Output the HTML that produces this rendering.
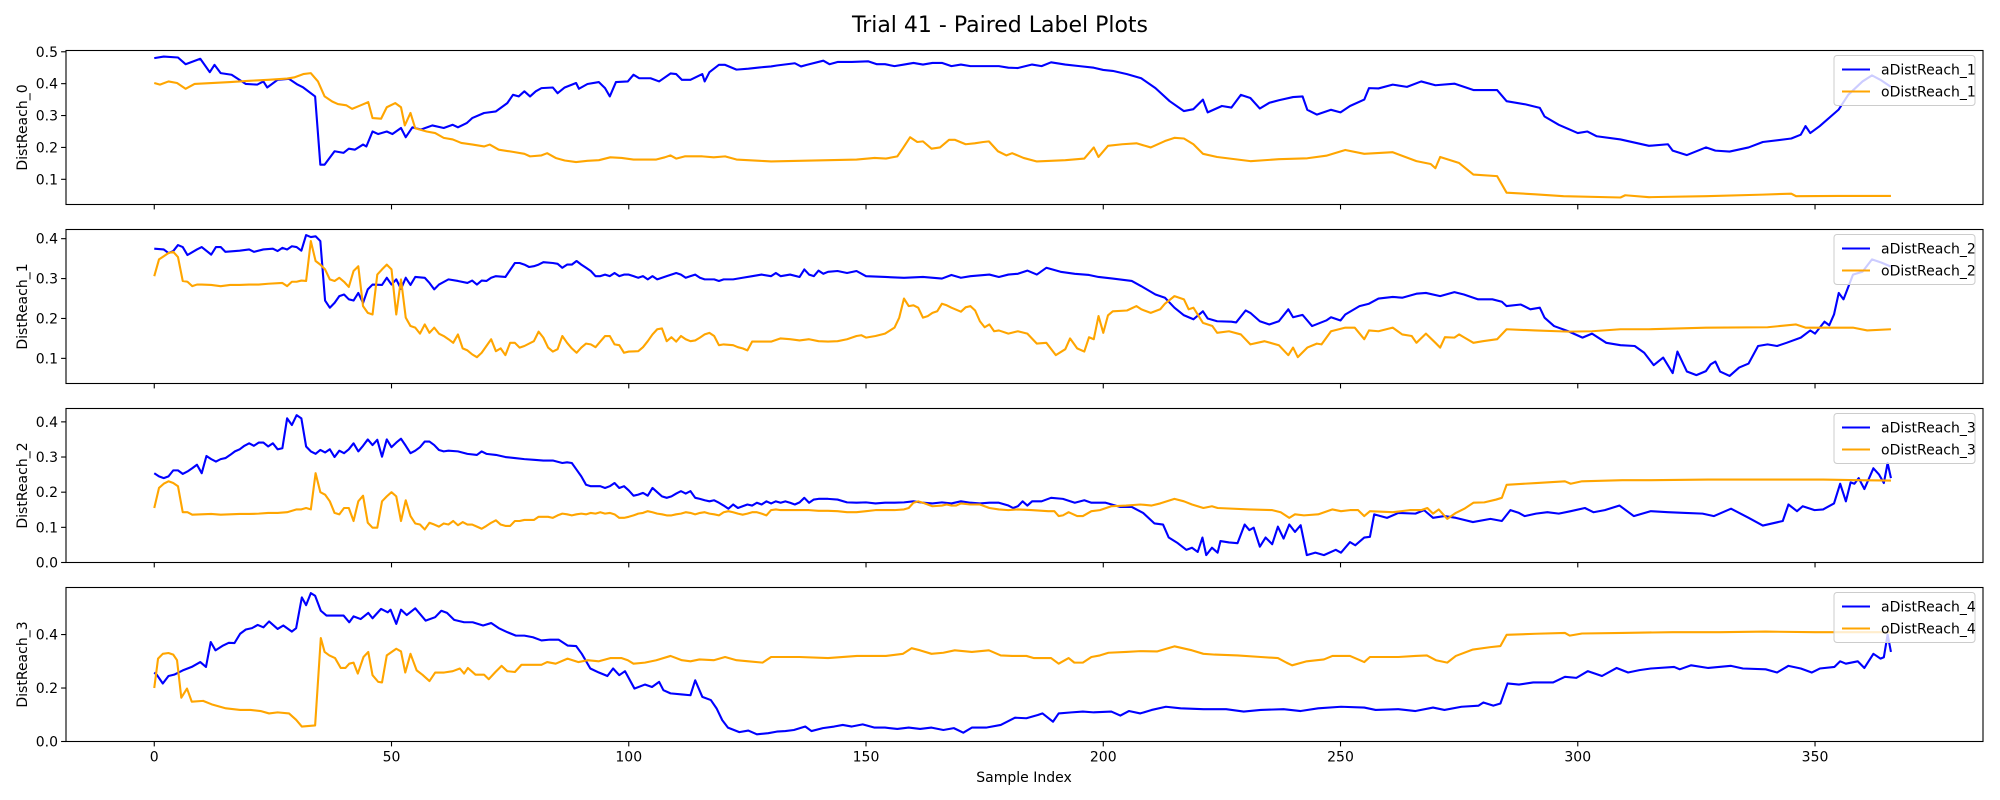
<!DOCTYPE html>
<html><head><meta charset="utf-8"><style>
html,body{margin:0;padding:0;background:#fff;}
svg{display:block;font-family:"DejaVu Sans","Liberation Sans",sans-serif;}
</style></head><body>
<svg id="fig" width="2000" height="800" viewBox="0 0 2000 800" xmlns="http://www.w3.org/2000/svg">
<rect width="2000" height="800" fill="#fff"/>
<text x="1000" y="32" text-anchor="middle" font-size="22">Trial 41 - Paired Label Plots</text>
<text x="1024" y="782" text-anchor="middle" font-size="14">Sample Index</text>
</svg>
<script>
const xTicks = [0,50,100,150,200,250,300,350];
const panelLabels = ["DistReach_0","DistReach_1","DistReach_2","DistReach_3"];
const seriesNamesA = ["aDistReach_1","aDistReach_2","aDistReach_3","aDistReach_4"];
const seriesNamesO = ["oDistReach_1","oDistReach_2","oDistReach_3","oDistReach_4"];
const yTicks1 = [0.1,0.2,0.3,0.4,0.5];
const yTicks2 = [0.1,0.2,0.3,0.4];
const yTicks3 = [0.0,0.1,0.2,0.3,0.4];
const yTicks4 = [0.0,0.2,0.4];
const yLim1 = [0.021,0.504], yLim2 = [0.037,0.423], yLim3 = [0,0.438], yLim4 = [0,0.576];

const aDistReach1 = [[0,.48],[2,.485],[5,.482],[6.6,.461],[9.7,.478],[11.7,.436],[12.7,.459],[14,.433],[16.3,.428],[19.3,.399],[21.7,.397],[23,.407],[23.8,.388],[26,.412],[28.4,.415],[30.2,.397],[31.4,.388],[33.9,.36],[35,.146],[35.9,.146],[38,.188],[39.9,.183],[41,.196],[42.3,.193],[44,.209],[44.7,.203],[46,.25],[47.2,.242],[49,.25],[50.2,.242],[52,.261],[53,.232],[54.4,.263],[56.2,.256],[58.6,.269],[61,.261],[62.9,.271],[64,.263],[65.9,.277],[67,.292],[69.5,.308],[72,.313],[74.4,.339],[75.6,.365],[76.8,.36],[78,.376],[79.2,.36],[80.4,.376],[81.6,.386],[84,.388],[85,.37],[86.5,.388],[88.9,.402],[89.5,.384],[91.3,.399],[93.7,.405],[95,.386],[96,.36],[97.3,.405],[99.8,.407],[101,.428],[102.2,.417],[104.6,.417],[106.4,.407],[108.8,.432],[110,.43],[111.2,.412],[113,.412],[115.5,.43],[116,.407],[117,.436],[119,.459],[120.3,.459],[122.7,.444],[125.2,.447],[127.6,.451],[130,.454],[131.2,.457],[135,.464],[136.3,.454],[137.5,.459],[141,.472],[142.3,.461],[144,.468],[147,.468],[150.5,.47],[152.3,.461],[154,.461],[156,.455],[158,.46],[160,.465],[162,.46],[164,.465],[166,.465],[168,.455],[170,.46],[172,.455],[174,.455],[176,.455],[178,.455],[180,.45],[182,.449],[185,.46],[187,.455],[189,.467],[192,.46],[195,.455],[198,.45],[200,.443],[202,.44],[205,.43],[208,.417],[211,.386],[214,.345],[217,.314],[219,.32],[221,.35],[222,.31],[225,.33],[227,.325],[229,.365],[231,.355],[233,.322],[235,.34],[237,.348],[240,.358],[242,.36],[243,.318],[245,.303],[248,.318],[250,.31],[252,.33],[255,.35],[256,.386],[258,.385],[261,.397],[264,.39],[267,.407],[270,.395],[274,.40],[278,.38],[283,.38],[285,.345],[289,.335],[292,.324],[293,.297],[296,.271],[300,.245],[302,.25],[304,.235],[309,.225],[315,.205],[319,.21],[320,.19],[323,.176],[327,.2],[329,.19],[332,.187],[336,.2],[339,.217],[345,.228],[347,.24],[348,.267],[349,.245],[351,.267],[355,.319],[357,.365],[360,.407],[362,.426],[364,.41],[366,.39]];
const oDistReach1 = [[0,.402],[1.2,.397],[3,.407],[4.8,.402],[6.6,.384],[8.5,.399],[12,.402],[16,.405],[20,.409],[24,.412],[28,.416],[29.6,.42],[31.4,.43],[33,.433],[34.5,.407],[35.9,.36],[37.5,.344],[38.7,.336],[40.5,.332],[41.7,.321],[43.5,.332],[45.1,.342],[46,.292],[47.8,.29],[49,.326],[50.8,.339],[52,.326],[52.8,.269],[54,.308],[55,.26],[57.4,.25],[59.2,.245],[61,.23],[62.9,.225],[64.7,.214],[67.1,.209],[69.5,.203],[70.7,.209],[72.6,.193],[75.6,.186],[78,.18],[79.2,.172],[81.6,.175],[82.8,.182],[84.6,.167],[86.5,.159],[88.9,.154],[91.3,.158],[93.7,.16],[96.1,.169],[98.5,.167],[101,.162],[105.8,.162],[107.6,.169],[108.8,.175],[110,.165],[111.8,.172],[115.5,.172],[117.9,.169],[120.3,.172],[122.7,.162],[127.6,.158],[130,.156],[136,.158],[142,.16],[148,.162],[151.8,.167],[154.2,.165],[156.6,.172],[157.8,.198],[159.3,.232],[160.8,.217],[162,.219],[163.8,.196],[165.6,.2],[167.5,.224],[168.7,.224],[171,.21],[172.9,.213],[174.7,.217],[175.9,.219],[177.8,.188],[179.6,.175],[180.8,.182],[183.2,.167],[186,.156],[192,.16],[196,.165],[198,.2],[199,.17],[201,.205],[204,.21],[207,.213],[210,.2],[213,.22],[215,.23],[217,.228],[219,.21],[221,.18],[224,.17],[231,.157],[237,.163],[243,.166],[247,.174],[251,.192],[255,.18],[261,.185],[266,.157],[269,.148],[270,.135],[271,.17],[275,.151],[278,.115],[283,.11],[285,.058],[291,.053],[297,.047],[309,.043],[310,.05],[315,.044],[327,.047],[339,.052],[345,.055],[346,.047],[355,.048],[366,.048]];

const aDistReach2 = [[0,.375],[2,.373],[3,.364],[4,.369],[5,.384],[6,.379],[7,.359],[9,.373],[10,.379],[12,.36],[13,.379],[14,.379],[15,.367],[18,.37],[20,.373],[21,.367],[23,.373],[25,.375],[26,.369],[27,.377],[28,.373],[29,.381],[30,.379],[31,.37],[32,.409],[33,.404],[34,.406],[35,.394],[36,.245],[37,.227],[38,.239],[39,.256],[40,.26],[41,.248],[42,.245],[43,.264],[44,.239],[45,.273],[46,.285],[48,.284],[49,.302],[50,.285],[51,.298],[52,.274],[53,.302],[54,.284],[55,.304],[57,.302],[58,.289],[59,.273],[60,.285],[62,.298],[64,.294],[66,.289],[67,.295],[68,.285],[69,.295],[70,.294],[71,.302],[72,.306],[74,.304],[76,.339],[77,.339],[78,.335],[79,.329],[80,.331],[81,.335],[82,.341],[84,.339],[85,.337],[86,.327],[87,.335],[88,.335],[89,.344],[90,.335],[91,.327],[92,.319],[93,.306],[94,.306],[95,.31],[96,.306],[97,.314],[98,.306],[99,.31],[100,.31],[101,.306],[102,.302],[103,.306],[104,.298],[105,.306],[106,.298],[107,.302],[108,.306],[110,.314],[111,.31],[112,.302],[113,.306],[114,.31],[115,.302],[116,.298],[118,.298],[119,.294],[120,.298],[122,.298],[124,.302],[126,.306],[128,.31],[130,.306],[131,.314],[132,.306],[134,.31],[136,.304],[137,.323],[138,.31],[139,.306],[140,.32],[141,.312],[142,.317],[144,.319],[146,.314],[148,.319],[150,.306],[154,.304],[158,.302],[162,.304],[166,.30],[168,.309],[170,.302],[172,.306],[176,.31],[178,.304],[180,.31],[182,.312],[184,.32],[186,.31],[188,.327],[191,.317],[194,.312],[197,.309],[199,.304],[202,.30],[206,.294],[208,.281],[211,.26],[213,.252],[215,.227],[217,.208],[219,.198],[221,.218],[222,.2],[224,.193],[227,.192],[228,.19],[230,.22],[231,.214],[233,.193],[235,.185],[237,.193],[239,.223],[240,.203],[242,.209],[244,.181],[247,.195],[248,.203],[250,.195],[251,.21],[254,.231],[256,.237],[258,.25],[261,.254],[263,.252],[266,.262],[268,.264],[271,.256],[274,.266],[276,.26],[279,.248],[282,.248],[284,.242],[285,.231],[288,.235],[290,.223],[292,.227],[293,.202],[295,.181],[298,.168],[301,.152],[303,.162],[306,.139],[309,.133],[312,.131],[314,.114],[316,.083],[318,.102],[320,.063],[321,.117],[323,.067],[325,.058],[327,.068],[328,.085],[329,.092],[330,.067],[332,.056],[334,.077],[336,.087],[338,.131],[340,.135],[342,.131],[344,.139],[347,.152],[349,.17],[350,.162],[352,.192],[353,.183],[354,.21],[355,.264],[356,.248],[358,.31],[360,.317],[362,.348],[364,.34],[366,.33]];
const oDistReach2 = [[0,.306],[1,.348],[2,.356],[3,.364],[4,.367],[5,.354],[6,.294],[7,.292],[8,.281],[9,.285],[10,.285],[12,.284],[14,.281],[16,.284],[18,.284],[20,.285],[22,.285],[24,.287],[27,.289],[28,.281],[29,.292],[30,.292],[31,.295],[32,.294],[33,.394],[34,.344],[35,.335],[36,.323],[37,.298],[38,.294],[39,.302],[40,.292],[41,.279],[42,.319],[43,.331],[44,.231],[45,.214],[46,.21],[47,.31],[48,.323],[49,.335],[50,.323],[51,.21],[52,.298],[53,.202],[54,.181],[55,.177],[56,.162],[57,.185],[58,.164],[59,.177],[60,.162],[61,.156],[62,.148],[63,.139],[64,.16],[65,.125],[66,.12],[67,.11],[68,.103],[69,.114],[70,.131],[71,.148],[72,.118],[73,.125],[74,.108],[75,.139],[76,.139],[77,.127],[78,.131],[80,.143],[81,.167],[82,.152],[83,.127],[84,.117],[85,.123],[86,.156],[87,.139],[88,.125],[89,.114],[90,.127],[91,.137],[92,.135],[93,.128],[94,.142],[95,.156],[96,.156],[97,.135],[98,.133],[99,.114],[100,.117],[102,.118],[103,.128],[104,.143],[105,.16],[106,.173],[107,.175],[108,.143],[109,.153],[110,.142],[111,.156],[112,.148],[113,.143],[114,.145],[115,.152],[116,.16],[117,.164],[118,.156],[119,.133],[120,.135],[122,.133],[123,.128],[124,.125],[125,.12],[126,.142],[130,.142],[132,.15],[134,.148],[136,.145],[138,.148],[140,.143],[142,.142],[144,.143],[146,.148],[148,.156],[149,.158],[150,.152],[152,.156],[154,.162],[156,.177],[157,.202],[158,.25],[159,.231],[160,.233],[161,.227],[162,.202],[163,.206],[164,.214],[165,.218],[166,.237],[167,.233],[168,.227],[170,.217],[171,.228],[172,.231],[173,.22],[174,.193],[175,.178],[176,.185],[177,.168],[178,.17],[180,.162],[182,.168],[184,.162],[186,.137],[188,.139],[190,.108],[192,.123],[193,.15],[194.5,.125],[196,.117],[197,.153],[198,.148],[199,.206],[200,.164],[201,.208],[202,.218],[205,.22],[207,.231],[208,.223],[210,.214],[212,.223],[213,.237],[215,.256],[217,.248],[218,.223],[219,.227],[221,.189],[223,.181],[224,.164],[226.5,.168],[229,.16],[231,.135],[234,.143],[237,.133],[239,.108],[240,.127],[241,.103],[243,.127],[245,.137],[246,.135],[248,.168],[251,.177],[253,.177],[255,.148],[256,.17],[258,.168],[261,.177],[263,.16],[265,.156],[266,.139],[268,.162],[270,.139],[271,.127],[272,.153],[274,.152],[275,.16],[276,.153],[278,.139],[280,.143],[283,.148],[285,.173],[291,.17],[298,.167],[303,.168],[309,.173],[315,.173],[327,.177],[340,.178],[346,.185],[348,.177],[358,.177],[361,.17],[366,.173]];

const aDistReach3 = [[0,.254],[1,.245],[2,.24],[3,.245],[4,.262],[5,.262],[6,.252],[7,.259],[8,.268],[9,.278],[10,.254],[11,.303],[12,.294],[13,.287],[14,.294],[15,.297],[16,.306],[17,.316],[18,.322],[19,.332],[20,.339],[21,.332],[22,.341],[23,.341],[24,.33],[25,.339],[26,.322],[27,.325],[28,.41],[29,.391],[30,.419],[31,.41],[32,.33],[33,.316],[34,.309],[35,.32],[36,.313],[37,.322],[38,.30],[39,.318],[40,.311],[41,.322],[42,.339],[43,.316],[44,.332],[45,.35],[46,.334],[47,.349],[48,.301],[49,.35],[50,.328],[51,.341],[52,.352],[53,.332],[54,.311],[55,.318],[56,.328],[57,.344],[58,.344],[59,.334],[60,.32],[61,.316],[62,.318],[64,.316],[66,.309],[68,.306],[69,.316],[70,.309],[72,.306],[74,.30],[76,.297],[78,.294],[80,.292],[82,.29],[84,.29],[86,.283],[87,.285],[88,.283],[89,.264],[90,.245],[91,.221],[92,.217],[94,.217],[95,.212],[96,.217],[97,.226],[98,.212],[99,.217],[100,.205],[101,.19],[102,.193],[103,.198],[104,.19],[105,.212],[106,.20],[107,.188],[108,.184],[109,.188],[110,.196],[111,.203],[112,.196],[113,.203],[114,.184],[115,.181],[116,.177],[117,.174],[118,.177],[119,.17],[120,.162],[121,.153],[122,.165],[123,.155],[124,.16],[125,.165],[126,.162],[127,.17],[128,.165],[129,.174],[130,.168],[131,.174],[132,.17],[133,.174],[134,.17],[135,.165],[136,.171],[137,.184],[138,.17],[139,.179],[140,.181],[142,.181],[144,.179],[146,.171],[148,.17],[150,.171],[152,.168],[154,.17],[156,.17],[158,.171],[160,.174],[162,.17],[164,.168],[166,.171],[168,.168],[170,.174],[172,.17],[174,.168],[176,.17],[178,.17],[180,.162],[181,.155],[182,.16],[183,.174],[184,.162],[185,.174],[187,.174],[189,.184],[191.5,.181],[194,.17],[196,.177],[197.5,.17],[200.5,.17],[203.6,.158],[206,.158],[208.4,.141],[210.8,.111],[212.6,.108],[213.8,.071],[215.7,.055],[217.5,.036],[218.7,.042],[219.9,.03],[220.9,.071],[221.7,.021],[222.9,.042],[224.1,.028],[224.7,.061],[226.5,.057],[228.3,.055],[229.8,.108],[230.8,.092],[231.7,.099],[233,.045],[234.2,.071],[235.6,.052],[236.8,.102],[238,.068],[239.2,.108],[240.4,.087],[241.6,.106],[242.9,.021],[244.7,.028],[246.5,.021],[249,.036],[250.1,.028],[252,.058],[253.1,.049],[255,.071],[256.2,.073],[257.1,.137],[259.8,.127],[262.2,.141],[265.8,.139],[267.6,.149],[269.5,.127],[271.9,.132],[274.3,.127],[277.9,.115],[281.6,.124],[284,.118],[285.8,.149],[287.6,.141],[288.8,.132],[291.2,.139],[293.6,.143],[296,.139],[298.5,.146],[301.5,.155],[303.3,.143],[305.7,.149],[308.8,.162],[311.8,.132],[315.4,.146],[319,.143],[322.7,.141],[326.3,.139],[328.7,.132],[332.3,.153],[336,.127],[339,.105],[343.2,.118],[344.4,.165],[346.2,.146],[347.4,.16],[349.9,.149],[351.7,.151],[354,.168],[355.3,.224],[356.5,.174],[357.5,.228],[358.3,.224],[359.2,.24],[360.4,.209],[362.3,.268],[363.5,.25],[364.5,.226],[365.3,.283],[366,.24]];
const oDistReach3 = [[0,.155],[1,.212],[2,.224],[3,.231],[4,.226],[5,.217],[6,.143],[7,.143],[8,.136],[10,.137],[12,.138],[14,.136],[16,.137],[18,.138],[20,.138],[22,.139],[24,.141],[26,.141],[28,.143],[30,.151],[31,.151],[32,.155],[33,.151],[34,.254],[35,.20],[36,.193],[37,.174],[38,.141],[39,.137],[40,.155],[41,.155],[42,.118],[43,.174],[44,.19],[45,.113],[46,.099],[47,.099],[48,.174],[49,.188],[50,.20],[51,.188],[52,.118],[53,.177],[54,.132],[55,.111],[56,.108],[57,.094],[58,.113],[59,.108],[60,.102],[61,.111],[62,.108],[63,.118],[64,.106],[65,.115],[66,.108],[67,.108],[68,.102],[69,.096],[70,.104],[71,.113],[72,.12],[73,.108],[74,.104],[75,.104],[76,.118],[77,.118],[78,.121],[80,.121],[81,.13],[82,.13],[83,.13],[84,.127],[85,.134],[86,.139],[87,.137],[88,.134],[89,.137],[90,.139],[91,.137],[92,.141],[93,.139],[94,.143],[95,.139],[96,.141],[97,.137],[98,.127],[99,.127],[100,.13],[101,.134],[102,.139],[103,.141],[104,.146],[105,.143],[106,.139],[107,.137],[108,.134],[109,.134],[110,.137],[111,.139],[112,.143],[113,.141],[114,.137],[115,.141],[116,.143],[117,.139],[118,.137],[119,.134],[120,.143],[121,.146],[122,.143],[123,.139],[124,.136],[125,.139],[126,.143],[127,.143],[128,.139],[129,.134],[130,.149],[131,.151],[132,.149],[134,.149],[136,.149],[138,.149],[140,.147],[142,.147],[144,.146],[146,.143],[148,.143],[150,.146],[152,.149],[154,.149],[156,.149],[158,.151],[159,.155],[160,.17],[161,.174],[162,.17],[163,.165],[164,.16],[166,.162],[167,.165],[168,.162],[169,.162],[170,.168],[172,.165],[174,.165],[176,.155],[178,.151],[180,.149],[182,.151],[184.8,.149],[188.4,.146],[189.7,.146],[190.6,.132],[191.5,.134],[192.7,.143],[194.5,.132],[195.7,.132],[197.5,.146],[199.3,.149],[201.7,.16],[204.8,.162],[207.8,.165],[210.2,.162],[212,.168],[215,.181],[217,.174],[218.7,.165],[221.1,.155],[222.9,.16],[224.1,.155],[230.8,.151],[235.6,.149],[237.4,.143],[239.2,.127],[240.4,.137],[242.3,.134],[245.3,.137],[248.3,.151],[250.1,.146],[252,.149],[253.7,.149],[255,.132],[256.2,.146],[261,.143],[264.6,.149],[267,.149],[268.3,.155],[269.5,.139],[270.7,.151],[272.5,.124],[274.3,.141],[276.1,.153],[278,.17],[280.3,.171],[282.8,.179],[284,.184],[285,.221],[291.2,.226],[297.3,.231],[298.5,.224],[300.9,.231],[309.4,.234],[315.4,.234],[327.5,.236],[339.6,.236],[351.7,.236],[359,.234],[366,.233]];

const aDistReach4 = [[0,.258],[0.6,.248],[1.8,.217],[3,.245],[4.2,.25],[6,.266],[7.9,.279],[9.7,.297],[10.9,.279],[11.9,.372],[12.9,.341],[14.5,.359],[15.7,.369],[16.9,.368],[18.1,.403],[19.3,.419],[20.6,.424],[21.8,.436],[23,.427],[24.2,.449],[26,.421],[27.2,.434],[29,.411],[29.9,.424],[31.1,.539],[32,.51],[33,.555],[33.9,.545],[35.1,.489],[36.3,.471],[38,.471],[39.9,.471],[41.1,.446],[42,.468],[43.5,.458],[45.1,.481],[46,.461],[47.8,.496],[49.2,.483],[49.8,.493],[51,.44],[52,.493],[53.2,.473],[55,.498],[57.2,.452],[59.2,.465],[60.5,.489],[61.7,.481],[63.2,.455],[65.3,.446],[67.1,.446],[69.3,.434],[71,.443],[72.6,.424],[74.4,.409],[76.2,.396],[78,.396],[79.8,.39],[81.6,.378],[83.4,.381],[85.2,.381],[87.1,.359],[88.9,.357],[90.1,.328],[91.9,.273],[93.7,.258],[95.5,.245],[96.7,.273],[98,.248],[99.2,.263],[101.2,.198],[103.4,.213],[104.9,.204],[106.4,.223],[107.3,.192],[108.8,.18],[111.2,.176],[113,.173],[114,.229],[115.5,.167],[117.3,.155],[118.5,.124],[119.7,.08],[120.9,.052],[123.3,.035],[125.2,.041],[127,.027],[129.4,.031],[131.2,.037],[133,.039],[134.8,.043],[137.2,.056],[138.5,.039],[140.9,.05],[143.3,.056],[145.1,.062],[147,.056],[149.3,.064],[151.8,.052],[154,.052],[156.6,.047],[159,.052],[161.4,.047],[163.8,.052],[166.3,.043],[168.5,.05],[170.5,.033],[172.3,.052],[175.3,.052],[178.4,.062],[181.4,.089],[183.8,.087],[186.2,.099],[187.2,.105],[189.4,.074],[190.6,.105],[193.3,.109],[195.7,.112],[198,.109],[201.7,.112],[203.6,.097],[205.4,.114],[207.8,.105],[210.2,.118],[213.2,.13],[216.3,.124],[221.1,.121],[225.9,.121],[229.6,.112],[233.2,.118],[238,.121],[241.6,.114],[245.3,.124],[250.1,.13],[255,.127],[257.4,.118],[262.2,.121],[265.8,.114],[269.5,.127],[271.9,.118],[275.5,.13],[279.1,.134],[280.1,.146],[282.2,.134],[283.7,.142],[285.2,.217],[287.6,.213],[290.6,.221],[294.8,.221],[297.3,.242],[299.7,.238],[302.1,.263],[305.1,.245],[308.2,.275],[310.6,.258],[313,.267],[315.4,.273],[320.3,.279],[321.5,.27],[323.9,.285],[327.5,.275],[332.3,.283],[334.8,.273],[339.6,.27],[342,.258],[344.4,.283],[347,.273],[349.3,.258],[351,.273],[354.1,.279],[355.3,.30],[356.5,.291],[359,.30],[360.4,.275],[362.3,.328],[363.8,.31],[364.5,.315],[365.3,.40],[366,.335]];
const oDistReach4 = [[0,.20],[0.8,.31],[1.8,.328],[3,.331],[4,.325],[4.8,.304],[5.7,.164],[6.9,.198],[7.9,.149],[10.3,.152],[12.1,.139],[15.1,.124],[18.1,.118],[20.3,.118],[22.4,.114],[24.2,.105],[26,.109],[28.4,.105],[29.9,.081],[31.1,.056],[33.9,.06],[35.1,.387],[35.9,.335],[36.9,.322],[38.1,.312],[39.3,.275],[40.3,.275],[41.1,.291],[42,.295],[42.9,.254],[44.1,.316],[45.1,.335],[46,.248],[47.2,.223],[48,.221],[49,.322],[51,.347],[52,.337],[52.9,.258],[54,.328],[55.3,.266],[56.5,.25],[58,.226],[59.2,.258],[61.1,.258],[62.9,.263],[64.4,.273],[65.3,.254],[66.1,.275],[67.7,.25],[69.5,.25],[70.5,.233],[71.9,.26],[73.2,.283],[74.4,.263],[76,.26],[77.4,.287],[81.6,.287],[82.8,.297],[84.6,.291],[87.1,.31],[89.4,.297],[91.3,.304],[93.7,.3],[96.1,.312],[98.5,.312],[99.8,.304],[101,.291],[103.4,.295],[105.8,.304],[108.8,.32],[111.2,.304],[113,.3],[114.9,.307],[117.9,.304],[120.3,.316],[122.7,.304],[125.2,.3],[128.2,.295],[130,.316],[136,.316],[142,.312],[148.1,.32],[154.2,.32],[157.8,.328],[159.6,.349],[161.4,.341],[163.8,.328],[166.3,.332],[168.7,.341],[172.3,.335],[175.9,.341],[178.4,.322],[180.8,.32],[183.8,.32],[185.4,.312],[189,.312],[190.6,.291],[192.7,.312],[193.9,.295],[195.7,.295],[197.5,.316],[199.3,.322],[201.1,.332],[204.8,.335],[207.8,.338],[211.4,.337],[215,.356],[218.7,.341],[221.1,.328],[223.5,.325],[228.3,.322],[233.2,.316],[236.8,.312],[238.6,.295],[239.8,.285],[242.9,.3],[246.5,.307],[248.3,.32],[252,.32],[255,.297],[256.2,.316],[262.2,.316],[265.8,.32],[268.2,.322],[270.1,.304],[272.5,.295],[274.3,.32],[277.9,.344],[281.6,.353],[283.7,.357],[285,.399],[291.2,.403],[297.3,.406],[298.3,.396],[300.9,.404],[309.4,.406],[320,.409],[330,.409],[339.6,.411],[350,.409],[363.8,.409],[366,.409]];

const panelData = [[aDistReach1,oDistReach1],[aDistReach2,oDistReach2],[aDistReach3,oDistReach3],[aDistReach4,oDistReach4]];
const panelYTicks = [yTicks1,yTicks2,yTicks3,yTicks4];
const panelYLims = [yLim1,yLim2,yLim3,yLim4];

const NS = "http://www.w3.org/2000/svg";
const svg = document.getElementById('fig');
const L = 66, R = 1983, TOPS = [50.5,229.5,408.5,587.5], H = 154;
const XMIN = -18.6, XMAX = 385.4;
function xs(v){ return L + (v - XMIN) / (XMAX - XMIN) * (R - L); }
function mk(tag, attrs, parent){
  const e = document.createElementNS(NS, tag);
  for (const k in attrs) e.setAttribute(k, attrs[k]);
  (parent || svg).appendChild(e);
  return e;
}

panelData.forEach((pair, p) => {
  const top = TOPS[p], bot = top + H;
  const lim = panelYLims[p];
  const ys = v => bot - (v - lim[0]) / (lim[1] - lim[0]) * H;
  const g = mk('g', {});
  
  
  const clipId = 'clip' + p;
  const cp = mk('clipPath', {id: clipId}, g);
  mk('rect', {x: L, y: top, width: R - L, height: H}, cp);

  panelYTicks[p].forEach(t => {
    const y = ys(t);
    const tk = mk('line', {x1: L - 4.9, x2: L, y1: y, y2: y, stroke: '#000', 'stroke-width': 1.1}, g);
    
    
    const tl = mk('text', {x: L - 8, y: y + 5, 'text-anchor': 'end', 'font-size': 14}, g);
    tl.textContent = t.toFixed(1);
    
    
  });
  xTicks.forEach(t => {
    const x = xs(t);
    const tk = mk('line', {x1: x, x2: x, y1: bot, y2: bot + 4.9, stroke: '#000', 'stroke-width': 1.1}, g);
    
    
    if (p === 3) {
      const tl = mk('text', {x: x, y: bot + 20, 'text-anchor': 'middle', 'font-size': 14}, g);
      tl.textContent = String(t);
      
      
    }
  });
  const yl = mk('text', {x: 0, y: 0, 'text-anchor': 'middle', 'font-size': 14, transform: `translate(27,${top + H/2}) rotate(-90)`}, g);
  yl.textContent = panelLabels[p];
  
  

  const colors = ['#0000ff', '#ffa500'];
  pair.forEach((series, si) => {
    const d = series.map((pt, i) => (i ? 'L' : 'M') + xs(pt[0]).toFixed(2) + ' ' + ys(pt[1]).toFixed(2)).join(' ');
    const path = mk('path', {d: d, fill: 'none', stroke: colors[si], 'stroke-width': 2.1, 'stroke-linejoin': 'round', 'clip-path': `url(#${clipId})`}, g);
    
    
  });

  const fr = mk('rect', {x: L, y: top, width: R - L, height: H, fill: 'none', stroke: '#000', 'stroke-width': 1.1}, g);
  
  

  const lg = mk('g', {}, g);
  
  
  const lx = 1834, ly = top + 5;
  mk('rect', {x: lx, y: ly, width: 141, height: 50, rx: 3, fill: '#fff', 'fill-opacity': 0.8, stroke: '#cccccc', 'stroke-width': 1}, lg);
  [seriesNamesA[p], seriesNamesO[p]].forEach((nm, i) => {
    const ry = ly + 14 + i * 22;
    const ent = mk('g', {}, lg);
    
    
    mk('line', {x1: lx + 8, x2: lx + 36, y1: ry, y2: ry, stroke: colors[i], 'stroke-width': 2.1}, ent);
    const t = mk('text', {x: lx + 47, y: ry + 5, 'font-size': 14}, ent);
    t.textContent = nm;
  });
});
</script>
</body></html>
